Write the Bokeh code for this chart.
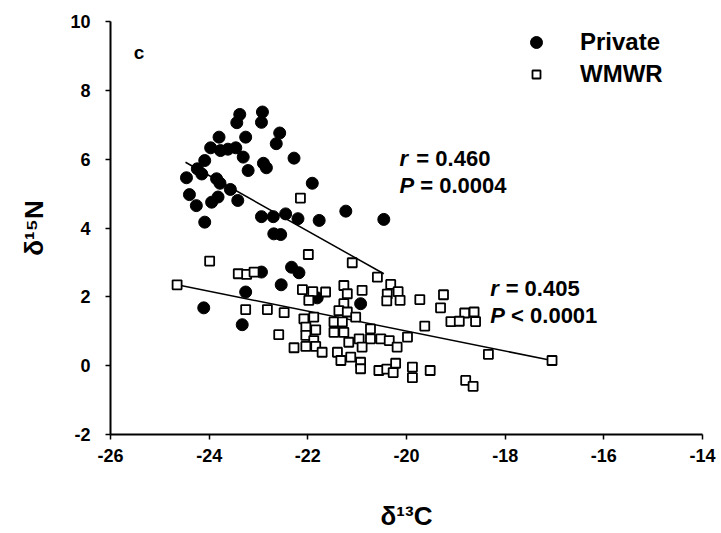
from bokeh.plotting import figure
from bokeh.models import Range1d, Label, Legend, LegendItem, FixedTicker
from bokeh.embed import file_html
from bokeh.resources import INLINE

# ---------------- data ----------------
private_d13c = [-23.38, -23.44, -22.92, -22.94, -22.57, -22.64, -23.80, -23.26, -23.97, -23.77,
                -23.62, -23.46, -23.31, -24.09, -24.24, -24.15, -24.46, -23.21, -22.90, -22.84,
                -22.28, -23.85, -23.78, -21.91, -24.40, -24.26, -23.95, -23.82, -23.57, -23.42,
                -24.09, -22.94, -22.70, -22.45, -22.20, -21.77, -21.23, -22.69, -22.55, -20.46,
                -20.93, -22.94, -22.33, -22.18, -22.54, -23.26, -24.11, -23.33, -21.81]
private_d15n = [7.30, 7.06, 7.37, 7.07, 6.76, 6.45, 6.64, 6.64, 6.33, 6.25,
                6.29, 6.33, 6.06, 5.96, 5.72, 5.57, 5.46, 5.67, 5.88, 5.75,
                6.03, 5.43, 5.30, 5.30, 4.97, 4.65, 4.75, 4.90, 5.12, 4.80,
                4.17, 4.33, 4.33, 4.41, 4.27, 4.22, 4.49, 3.83, 3.81, 4.25,
                1.80, 2.72, 2.86, 2.70, 2.35, 2.14, 1.68, 1.19, 1.97]

wmwr_d13c = [-24.65, -23.99, -23.41, -23.24, -23.09, -23.26, -22.82, -22.48, -22.59, -22.15,
             -21.99, -21.10, -22.11, -22.28, -21.90, -21.64, -21.98, -21.27, -21.20, -20.90,
             -21.27, -21.37, -21.20, -21.88, -22.08, -21.47, -21.30, -21.03, -22.04, -21.84,
             -21.47, -21.27, -20.73, -22.04, -21.88, -22.04, -21.84, -21.71, -21.17, -20.96,
             -20.73, -20.52, -20.35, -20.19, -20.90, -21.40, -21.33, -21.13, -20.93, -20.93,
             -20.56, -20.40, -20.27, -20.22, -20.59, -20.32, -20.17, -20.39, -20.13, -20.40,
             -19.73, -19.25, -19.31, -19.10, -18.82, -18.63, -18.60, -18.93, -19.63, -18.34,
             -17.05, -18.80, -18.65, -19.52, -19.88, -19.88, -19.98]
wmwr_d15n = [2.35, 3.04, 2.67, 2.65, 2.72, 1.63, 1.63, 1.54, 0.90, 4.87,
             3.23, 2.99, 2.21, 0.52, 2.15, 2.14, 1.90, 2.33, 2.09, 2.19,
             1.80, 1.60, 1.56, 1.41, 1.36, 1.27, 1.27, 1.41, 1.12, 1.04,
             0.97, 0.97, 1.07, 0.88, 0.73, 0.56, 0.56, 0.39, 0.68, 0.78,
             0.78, 0.78, 0.73, 0.54, 0.54, 0.39, 0.15, 0.25, 0.10, -0.09,
             -0.14, -0.10, -0.20, 0.07, 2.57, 2.36, 2.15, 2.08, 1.90, 1.88,
             1.92, 2.06, 1.68, 1.28, 1.53, 1.56, 1.28, 1.29, 1.15, 0.33,
             0.15, -0.43, -0.60, -0.14, -0.04, -0.35, 0.83]

# fitted regression lines (end points)
private_fit_x = [-24.48, -20.46]
private_fit_y = [5.91, 2.67]
wmwr_fit_x = [-24.65, -17.05]
wmwr_fit_y = [2.35, 0.15]

x_ticks = [-26, -24, -22, -20, -18, -16, -14]
x_tick_labels = ["-26", "-24", "-22", "-20", "-18", "-16", "-14"]
y_ticks = [-2, 0, 2, 4, 6, 8, 10]
y_tick_labels = ["-2", "0", "2", "4", "6", "8", "10"]

series_names = ["Private", "WMWR"]
stats_private = ["r", "= 0.460", "P", "= 0.0004"]
stats_wmwr = ["r", "= 0.405", "P", "< 0.0001"]
x_title = "δ¹³C"
y_title = "δ¹⁵N"

SANS = "Liberation Sans"

# ---------------- figure ----------------
p = figure(width=721, height=533, output_backend="svg", toolbar_location=None,
           x_range=Range1d(-26, -14), y_range=Range1d(-2, 10),
           min_border_left=110, min_border_right=19, min_border_top=21, min_border_bottom=99)
p.outline_line_color = None
p.grid.visible = False
p.background_fill_color = "white"
p.border_fill_color = "white"

p.xaxis.ticker = FixedTicker(ticks=x_ticks)
p.yaxis.ticker = FixedTicker(ticks=y_ticks)
p.xaxis.major_label_overrides = {t: s for t, s in zip(x_ticks, x_tick_labels)}
p.yaxis.major_label_overrides = {t: s for t, s in zip(y_ticks, y_tick_labels)}
for ax in (p.xaxis[0], p.yaxis[0]):
    ax.axis_line_width = 2
    ax.axis_line_color = "black"
    ax.major_tick_line_width = 1.5
    ax.major_tick_line_color = "black"
    ax.major_tick_out = 5
    ax.major_tick_in = 0
    ax.minor_tick_line_color = None
    ax.major_label_text_font = SANS
    ax.major_label_text_font_style = "bold"
    ax.major_label_text_font_size = "18px"
    ax.major_label_text_color = "black"
    ax.axis_label_text_font = SANS
    ax.axis_label_text_font_style = "bold"
    ax.axis_label_text_font_size = "26px"
    ax.axis_label_text_color = "black"
p.xaxis.major_label_standoff = 9
p.yaxis.major_label_standoff = 15
p.xaxis.axis_label = x_title
p.yaxis.axis_label = y_title
p.xaxis.axis_label_standoff = 36
p.yaxis.axis_label_standoff = 18

# regression lines
p.line(private_fit_x, private_fit_y, line_color="black", line_width=1.5)
p.line(wmwr_fit_x, wmwr_fit_y, line_color="black", line_width=1.5)

# points
r_priv = p.scatter(private_d13c, private_d15n, marker="circle", size=12,
                   fill_color="black", line_color="black", line_width=1)
r_wm = p.scatter(wmwr_d13c, wmwr_d15n, marker="square", size=9,
                 fill_color="white", line_color="black", line_width=1.8)

# legends
leg1 = Legend(items=[LegendItem(label=series_names[0], renderers=[r_priv])],
              location=(411, 377), glyph_width=30, glyph_height=30, label_standoff=29,
              padding=0, margin=0, border_line_color=None, background_fill_alpha=0,
              label_text_font=SANS, label_text_font_style="bold", label_text_font_size="24px",
              label_text_color="black")
leg2 = Legend(items=[LegendItem(label=series_names[1], renderers=[r_wm])],
              location=(416, 345), glyph_width=20, glyph_height=30, label_standoff=34,
              padding=0, margin=0, border_line_color=None, background_fill_alpha=0,
              label_text_font=SANS, label_text_font_style="bold", label_text_font_size="24px",
              label_text_color="black")
p.add_layout(leg1)
p.add_layout(leg2)


def lab(x, y, text, size, style="bold"):
    p.add_layout(Label(x=x, y=y, text=text, text_font=SANS, text_font_style=style,
                       text_font_size=size, text_color="black", text_align="left",
                       text_baseline="alphabetic"))


# panel letter
lab(-25.53, 9.1, "c", "19px")

# statistics
lab(-20.14, 6.02, stats_private[0], "22px", "bold italic")
lab(-19.80, 6.02, stats_private[1], "22px")
lab(-20.14, 5.235, stats_private[2], "22px", "bold italic")
lab(-19.72, 5.235, stats_private[3], "22px")
lab(-18.30, 2.24, stats_wmwr[0], "22px", "bold italic")
lab(-17.99, 2.24, stats_wmwr[1], "22px")
lab(-18.30, 1.458, stats_wmwr[2], "22px", "bold italic")
lab(-17.88, 1.458, stats_wmwr[3], "22px")

open("out.html", "w").write(file_html(p, INLINE))
